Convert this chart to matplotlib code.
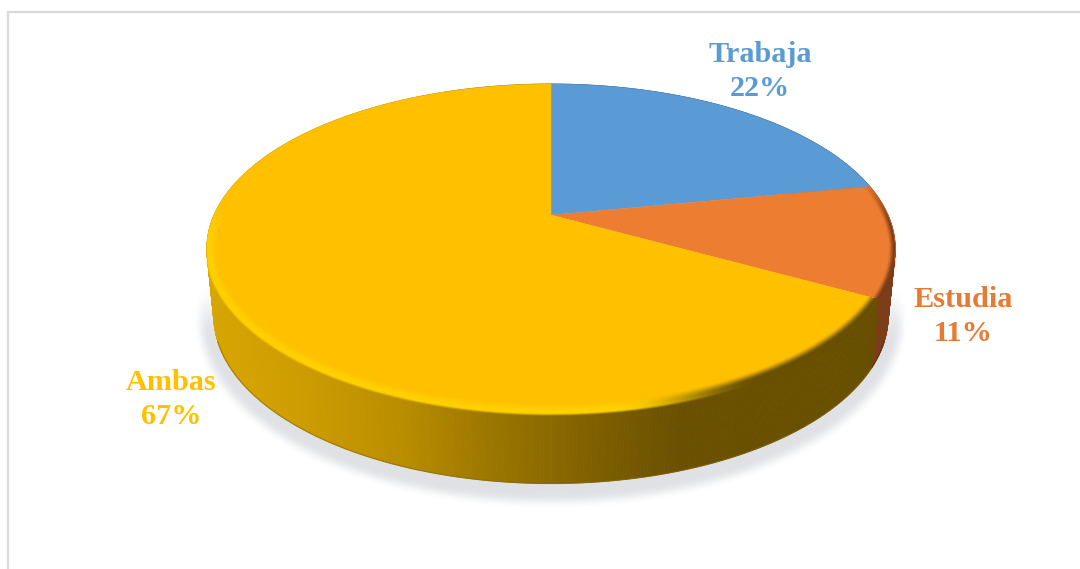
import numpy as np
import matplotlib
matplotlib.use("Agg")
import matplotlib.pyplot as plt
from matplotlib.collections import PolyCollection
from matplotlib.patches import Polygon

# Occupation shares
categories = ["Trabaja", "Estudia", "Ambas"]
shares = [22, 11, 67]
face_colors = ["#5B9BD5", "#ED7D31", "#FFC000"]
label_colors = ["#5B9BD5", "#E57B35", "#FFC000"]
label_anchors = [(760, 71.5), (963, 316.5), (171, 399.5)]

W, H = 1080, 569

# Projection of the unit pie disc onto the tilted top face
APEX = (551.0, 215.0)
TILT = 0.2036
SCALE_X, SCALE_Y = 337.0, 157.7
TOP_C, TOP_A, TOP_B = (551.0, 248.5), 344.0, 165.0
BOT_C, BOT_A, BOT_B = (551.0, 316.0), 337.0, 168.0


def top_face(theta):
    sx, sy = np.sin(theta), np.cos(theta)
    den = 1 + TILT * sy
    return APEX[0] + SCALE_X * sx / den, APEX[1] - SCALE_Y * sy / den


def bottom_edge(x, y):
    return (BOT_C[0] + (x - TOP_C[0]) * BOT_A / TOP_A,
            BOT_C[1] + (y - TOP_C[1]) * BOT_B / TOP_B)


def smooth(v):
    v = np.clip(v, 0, 1)
    return v * v * (3 - 2 * v)


def ellipse_distance(xx, yy, c, a, b):
    """Approximate signed pixel distance to an ellipse, positive inside."""
    dx, dy = xx - c[0], yy - c[1]
    r = np.sqrt((dx / a) ** 2 + (dy / b) ** 2) + 1e-9
    grad = np.sqrt((dx / a ** 2) ** 2 + (dy / b ** 2) ** 2) / r + 1e-9
    return (1 - r) / grad


# Side wall shading runs left to right
STOP_X = [205, 300, 400, 500, 600, 680, 900]
STOP_R = [216, 205, 186, 152, 125, 106, 104]
STOP_G = [166, 156, 141, 116, 95, 80, 79]
STOP_B = [0, 0, 0, 0, 0, 0, 0]


def gold_wall(x):
    return np.stack([np.interp(x, STOP_X, STOP_R),
                     np.interp(x, STOP_X, STOP_G),
                     np.interp(x, STOP_X, STOP_B)], axis=-1) / 255


bounds = np.concatenate([[0], np.cumsum(shares)]) / np.sum(shares) * 2 * np.pi

fig = plt.figure(figsize=(W / 100, H / 100), dpi=100, facecolor="white")
ax = fig.add_axes([0, 0, 1, 1])
ax.set_xlim(0, W)
ax.set_ylim(H, 0)
ax.axis("off")

# Frame: only the top and left edges fall inside the canvas
ax.plot([8, 8, W], [H, 12.3, 12.3], color="#D9D9D9", lw=1.6, zorder=1,
        solid_joinstyle="miter")

# Soft shadow under the disc
gx, gy = np.meshgrid(np.arange(W) + 0.5, np.arange(H) + 0.5)
d_shadow = ellipse_distance(gx, gy, (551, 319), 343, 175)
shadow = np.zeros((H, W, 4))
shadow[..., :3] = np.array([205, 208, 214]) / 255
shadow[..., 3] = 0.62 * smooth(1 + d_shadow / 15) * smooth((gy - 280) / 60)
ax.imshow(shadow, extent=(0, W, H, 0), aspect="auto", zorder=2,
          interpolation="nearest")

# Side wall, built from narrow vertical strips for each slice
for i in range(len(shares)):
    n = max(int(np.degrees(bounds[i + 1] - bounds[i]) * 2), 2)
    th = np.linspace(bounds[i], bounds[i + 1], n)
    tx, ty = top_face(th)
    bx, by = bottom_edge(tx, ty)
    quads = [[(tx[k], ty[k]), (tx[k + 1], ty[k + 1]),
              (bx[k + 1], by[k + 1]), (bx[k], by[k])] for k in range(n - 1)]
    mid = (tx[:-1] + tx[1:]) / 2
    if categories[i] == "Ambas":
        cols = gold_wall(mid)
    elif categories[i] == "Estudia":
        cols = np.tile(np.array([124, 62, 24]) / 255, (n - 1, 1))
    else:
        cols = np.tile(np.array([50, 90, 130]) / 255, (n - 1, 1))
    ax.add_collection(PolyCollection(quads, facecolors=cols, edgecolors=cols,
                                     linewidths=0.6, zorder=3))
    # Darkened lower lip of the wall, on the front half only
    front = by >= BOT_C[1] + 25
    if front.any():
        ax.plot(bx[front], by[front], color=cols[n // 2] * 0.62, lw=0.9,
                alpha=0.55, zorder=3.5)

# Top face of each slice
for i, color in enumerate(face_colors):
    n = max(int(np.degrees(bounds[i + 1] - bounds[i]) * 2), 2)
    th = np.linspace(bounds[i], bounds[i + 1], n)
    tx, ty = top_face(th)
    pts = np.column_stack([np.r_[APEX[0], tx], np.r_[APEX[1], ty]])
    ax.add_patch(Polygon(pts, closed=True, facecolor=color, edgecolor=color,
                         lw=0.3, zorder=4))

# Bevel along the front edge of the top face
d_top = ellipse_distance(gx, gy, TOP_C, TOP_A, TOP_B)
pix_angle = np.mod(np.arctan2(gx - APEX[0], APEX[1] - gy), 2 * np.pi)
ex1, ey1 = top_face(bounds[1])
ex2, ey2 = top_face(bounds[2])
ang1 = np.mod(np.arctan2(ex1 - APEX[0], APEX[1] - ey1), 2 * np.pi)
ang2 = np.mod(np.arctan2(ex2 - APEX[0], APEX[1] - ey2), 2 * np.pi)
in_orange = (pix_angle >= ang1) & (pix_angle < ang2)
in_gold = pix_angle >= ang2

highlight = np.array([255, 208, 0]) / 255
wall_here = gold_wall(gx)
blend = smooth((gx - 620) / 140)[..., None]
gold_rim = highlight * (1 - blend) + wall_here * blend

# The face meets the wall softly where there is wall beneath it
over_wall = smooth((gy - 252) / 15)
hard_edge = np.clip(d_top + 0.5, 0, 1)
soft_edge = smooth((d_top + 3.0) / 3.5)
edge_cover = hard_edge * (1 - over_wall) + soft_edge * over_wall

strength = smooth((11.0 - d_top) / 8.5)
lower = smooth((gy - 195) / 45)

rim = np.zeros((H, W, 4))
rim[..., :3] = gold_rim
rim[..., 3] = strength * edge_cover * lower * in_gold
rim[in_orange, 0] = 118 / 255
rim[in_orange, 1] = 58 / 255
rim[in_orange, 2] = 22 / 255
thin = smooth((7.0 - d_top) / 7.0) * edge_cover * smooth((gy - 170) / 60)
rim[..., 3] = np.where(in_orange, thin, rim[..., 3])
ax.imshow(rim, extent=(0, W, H, 0), aspect="auto", zorder=5,
          interpolation="nearest")
ax.set_xlim(0, W)
ax.set_ylim(H, 0)

# Category labels with their shares
for name, pct, col, (lx, ly) in zip(categories, shares, label_colors, label_anchors):
    ax.text(lx, ly, f"{name}\n{pct}%", color=col, ha="center", va="center",
            family="Liberation Serif", weight="bold", fontsize=21.8,
            linespacing=1.34, zorder=6)

fig.savefig("out.png", dpi=100, facecolor="white")
